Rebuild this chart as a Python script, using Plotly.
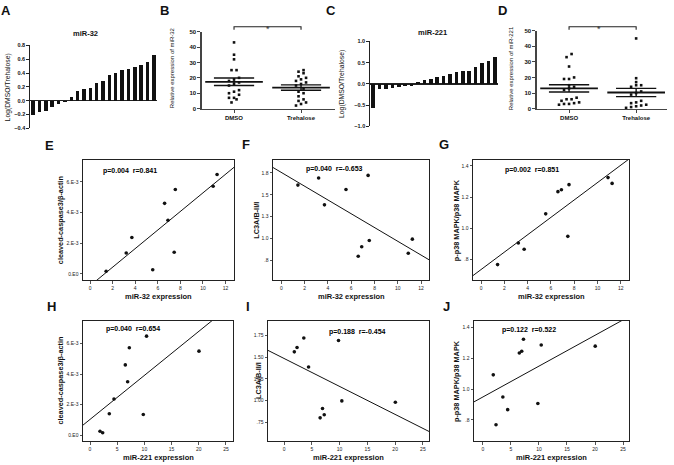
import numpy as np
import plotly.graph_objects as go

W, H = 674, 465
FONT = "Liberation Sans, Arial, sans-serif"

# ---------------- data ----------------
a_vals = [-0.20, -0.16, -0.15, -0.09, -0.05, -0.02, 0.06, 0.14, 0.17, 0.19,
          0.26, 0.28, 0.37, 0.40, 0.44, 0.46, 0.49, 0.52, 0.56, 0.66]
c_vals = [-0.56, -0.13, -0.13, -0.09, -0.07, -0.05, -0.04, 0.05, 0.10, 0.12,
          0.16, 0.18, 0.23, 0.28, 0.30, 0.31, 0.40, 0.50, 0.55, 0.64]

groups = ["DMSO", "Trehalose"]
b_dmso = [43, 35, 32, 25, 25, 20, 19, 18, 17, 16, 15, 12, 11, 10, 9, 7, 7, 6, 4]
b_tre = [25, 24, 23, 21, 20, 19, 18, 17, 16, 15, 13, 11, 10, 8, 6, 5, 4, 3, 2]
d_dmso = [35, 33, 27, 20, 19, 19, 15, 14, 13, 12, 7, 6, 6, 5, 4, 3.5, 3, 3, 2.5]
d_tre = [45, 19.5, 17, 15, 15, 14, 11, 10, 9, 5, 4, 3.5, 2.5, 2, 1.5, 1, 0.5]

mir32 = [1.42, 3.2, 3.7, 5.55, 6.6, 6.9, 7.45, 7.55, 10.9, 11.25]
mir221 = [2.33, 9.8, 4.41, 1.84, 6.49, 6.92, 3.55, 20.04, 7.23, 10.4]
casp = [0.17e-3, 1.36e-3, 2.37e-3, 0.27e-3, 4.6e-3, 3.5e-3, 1.41e-3, 5.5e-3, 5.72e-3, 6.48e-3]
lc3 = [1.61, 1.69, 1.385, 1.56, 0.80, 0.908, 1.72, 0.98, 0.835, 0.995]
p38 = [0.768, 0.906, 0.866, 1.093, 1.235, 1.247, 0.949, 1.28, 1.325, 1.288]

stats_text = ["p=0.004  r=0.841", "p=0.040  r=-0.653", "p=0.002  r=0.851",
              "p=0.040  r=0.654", "p=0.188  r=-0.454", "p=0.122  r=0.522"]

casp_ticks = [0, 2e-3, 4e-3, 6e-3]
casp_ticktext = ["0.E0", "2.E-3", "4.E-3", "6.E-3"]
lc3a_ticks = [0.75, 1.0, 1.25, 1.5, 1.75]
lc3a_ticktext = [".8", "1.0", "1.3", "1.5", "1.8"]
lc3b_ticktext = [".75", "1.00", "1.25", "1.50", "1.75"]
p38_ticks = [0.8, 1.0, 1.2, 1.4]
p38_ticktext = [".8", "1.0", "1.2", "1.4"]

# ---------------- layout helpers ----------------
boxes = {
    1: (30, 157, 43, 127),
    2: (202, 335, 29, 107),
    3: (370, 498, 39, 125),
    4: (537, 667, 28, 107),
    5: (83, 234, 159, 281),
    6: (273, 429, 159, 281),
    7: (473, 629, 159, 281),
    8: (83, 233, 322, 444),
    9: (268, 429, 322, 444),
    10: (474, 629, 322, 444),
}
xranges = {
    1: [-0.5, 19.5], 2: [-0.478, 1.507], 3: [-0.5, 19.5], 4: [-0.478, 1.46],
    5: [-0.63, 12.75], 6: [-0.72, 12.68], 7: [-0.69, 12.7],
    8: [-1.29, 26.3], 9: [-2.9, 26.1], 10: [-1.6, 26.07],
}
yranges = {
    1: [-0.4, 0.8], 2: [0, 50], 3: [-1.0, 1.0], 4: [0, 50],
    5: [-0.42e-3, 7.43e-3], 6: [0.526, 1.896], 7: [0.667, 1.438],
    8: [-0.39e-3, 7.48e-3], 9: [0.53, 1.917], 10: [0.66, 1.445],
}


def dom(i):
    x0, x1, y0, y1 = boxes[i]
    return [x0 / W, x1 / W], [1 - y1 / H, 1 - y0 / H]


def data_to_paper_x(i, v):
    x0, x1, _, _ = boxes[i]
    r0, r1 = xranges[i]
    return (x0 + (v - r0) / (r1 - r0) * (x1 - x0)) / W


def px(xp):
    return xp / W


def py(yp):
    return 1 - yp / H


def ax_id(i, kind):
    return kind if i == 1 else f"{kind}{i}"


fig = go.Figure()
layout = {}
annotations = []
shapes = []


def ann(text, x, y, size, bold=False, angle=0, xanchor="center", yanchor="middle", color="#111"):
    annotations.append(dict(
        text=f"<b>{text}</b>" if bold else text, x=px(x), y=py(y), xref="paper", yref="paper",
        showarrow=False, textangle=angle, xanchor=xanchor, yanchor=yanchor,
        font=dict(size=size, family=FONT, color=color)))


AXC = "#222"

# ---------------- bar panels A, C ----------------
for i, vals, ticks in [(1, a_vals, [-0.4, -0.2, 0, 0.2, 0.4, 0.6, 0.8]),
                       (3, c_vals, [-1.0, -0.5, 0, 0.5, 1.0])]:
    fig.add_trace(go.Bar(x=list(range(len(vals))), y=vals, width=0.55,
                         marker=dict(color="#111", line=dict(width=0)),
                         xaxis=ax_id(i, "x"), yaxis=ax_id(i, "y"), showlegend=False))
    xd, yd = dom(i)
    layout["xaxis" + ("" if i == 1 else str(i))] = dict(
        domain=xd, range=xranges[i], visible=False, anchor=ax_id(i, "y"))
    layout["yaxis" + ("" if i == 1 else str(i))] = dict(
        domain=yd, range=yranges[i], anchor=ax_id(i, "x"), showgrid=False,
        zeroline=True, zerolinecolor=AXC, zerolinewidth=1.2,
        showline=True, linecolor=AXC, linewidth=1.2, ticks="outside", ticklen=2.5,
        tickcolor=AXC, tickvals=ticks, tickformat=".1f",
        tickfont=dict(size=5.5, family=FONT, color="#111", weight="bold"))


# ---------------- dot plots B, D ----------------
def jitter(vals, binw=2.0, step=0.075):
    vals = np.asarray(vals, dtype=float)
    order = np.argsort(vals)
    offs = np.zeros(len(vals))
    grp = []
    start = None
    groups_idx = []
    for k in order:
        if start is None or vals[k] - start > binw:
            if grp:
                groups_idx.append(grp)
            grp = [k]
            start = vals[k]
        else:
            grp.append(k)
    if grp:
        groups_idx.append(grp)
    for g in groups_idx:
        n = len(g)
        for j, k in enumerate(g):
            offs[k] = (j - (n - 1) / 2) * step
    return offs


for i, series in [(2, [b_dmso, b_tre]), (4, [d_dmso, d_tre])]:
    xa, ya = ax_id(i, "x"), ax_id(i, "y")
    for ci, vals in enumerate(series):
        offs = jitter(vals)
        fig.add_trace(go.Scatter(
            x=list(ci + offs), y=vals, mode="markers",
            marker=dict(symbol="square", size=2.6, color="#111"),
            xaxis=xa, yaxis=ya, showlegend=False, cliponaxis=False))
        m = float(np.mean(vals))
        sem = float(np.std(vals, ddof=1) / np.sqrt(len(vals)))
        fig.add_trace(go.Scatter(
            x=[ci - 0.43, ci + 0.43], y=[m, m], mode="lines",
            line=dict(color="#111", width=1.8), xaxis=xa, yaxis=ya, showlegend=False))
        fig.add_trace(go.Scatter(
            x=[ci - 0.3, ci + 0.3, None, ci - 0.3, ci + 0.3, None, ci, ci],
            y=[m + sem, m + sem, None, m - sem, m - sem, None, m - sem, m + sem],
            mode="lines", line=dict(color="#111", width=1.4),
            xaxis=xa, yaxis=ya, showlegend=False))
    xd, yd = dom(i)
    layout["xaxis" + str(i)] = dict(
        domain=xd, range=xranges[i], anchor=ya, showgrid=False, zeroline=False,
        showline=True, linecolor="#444", linewidth=1.6, ticks="outside", ticklen=3,
        tickcolor="#444", tickvals=[0, 1], ticktext=groups,
        tickfont=dict(size=6, family=FONT, color="#111", weight="bold"))
    layout["yaxis" + str(i)] = dict(
        domain=yd, range=yranges[i], anchor=xa, showgrid=False, zeroline=False,
        showline=True, linecolor="#444", linewidth=1.6, ticks="outside", ticklen=3,
        tickcolor="#444", tickvals=[0, 10, 20, 30, 40, 50],
        tickfont=dict(size=6, family=FONT, color="#111", weight="bold"))
    # significance bracket
    xl, xr = data_to_paper_x(i, 0), data_to_paper_x(i, 1)
    shapes.append(dict(type="path", xref="paper", yref="paper",
                       path=f"M {xl} {py(27)} L {xl} {py(24)} L {xr} {py(24)} L {xr} {py(27)}",
                       line=dict(color="#222", width=1.1)))
    annotations.append(dict(text="*", x=(xl + xr) / 2, y=py(19), xref="paper", yref="paper",
                            showarrow=False, font=dict(size=9, family=FONT, color="#333")))

# ---------------- correlation scatter panels E-J ----------------
scat = [
    (5, mir32, casp, casp_ticks, casp_ticktext, [0, 2, 4, 6, 8, 10, 12]),
    (6, mir32, lc3, lc3a_ticks, lc3a_ticktext, [0, 2, 4, 6, 8, 10, 12]),
    (7, mir32, p38, p38_ticks, p38_ticktext, [0, 2, 4, 6, 8, 10, 12]),
    (8, mir221, casp, casp_ticks, casp_ticktext, [0, 5, 10, 15, 20, 25]),
    (9, mir221, lc3, lc3a_ticks, lc3b_ticktext, [0, 5, 10, 15, 20, 25]),
    (10, mir221, p38, p38_ticks, p38_ticktext, [0, 5, 10, 15, 20, 25]),
]
for i, xs, ys, yt, ytt, xt in scat:
    xa, ya = ax_id(i, "x"), ax_id(i, "y")
    slope, icpt = np.polyfit(xs, ys, 1)
    xr0, xr1 = xranges[i]
    fig.add_trace(go.Scatter(x=[xr0, xr1], y=[icpt + slope * xr0, icpt + slope * xr1],
                             mode="lines", line=dict(color="#111", width=1),
                             xaxis=xa, yaxis=ya, showlegend=False))
    fig.add_trace(go.Scatter(x=xs, y=ys, mode="markers",
                             marker=dict(size=3.6, color="#111"),
                             xaxis=xa, yaxis=ya, showlegend=False))
    xd, yd = dom(i)
    common = dict(showgrid=False, zeroline=False, showline=True, mirror=True,
                  linecolor="#222", linewidth=1, ticks="outside", ticklen=2.5,
                  tickcolor="#555", tickfont=dict(size=5, family=FONT, color="#222"))
    layout["xaxis" + str(i)] = dict(domain=xd, range=xranges[i], anchor=ya,
                                    tickvals=xt, **common)
    layout["yaxis" + str(i)] = dict(domain=yd, range=yranges[i], anchor=xa,
                                    tickvals=yt, ticktext=ytt, **common)

# ---------------- texts ----------------
for letter, x, y in [("A", 5.5, 8), ("B", 164, 8), ("C", 331, 8), ("D", 502, 8),
                     ("E", 49, 144), ("F", 245.5, 143), ("G", 444, 143),
                     ("H", 51, 307.5), ("I", 248, 307.5), ("J", 446, 307.5)]:
    ann(letter, x, y, 13, bold=True)

ann("miR-32", 85, 30.5, 7.5, bold=True)
ann("miR-221", 432, 30, 7.5, bold=True)
ann("Log(DMSO/Trehalose)", 7.5, 86, 6.8, angle=-90)
ann("Log(DMSO/Trehalose)", 342, 82, 6.8, angle=-90)
ann("Relative expression of miR-32", 172, 66, 6, angle=-90)
ann("Relative expression of miR-221", 511, 66, 6, angle=-90)

ytitles = {5: ("cleaved-caspase3/β-actin", 60), 6: ("LC3A/B-II/I", 256.5),
           7: ("p-p38 MAPK/p38 MAPK", 456), 8: ("cleaved-caspase3/β-actin", 60.5),
           9: ("LC3A/B-II/I", 258), 10: ("p-p38 MAPK/p38 MAPK", 456)}
stat_pos = {5: (130, 170), 6: (334, 168), 7: (532, 169),
            8: (133, 330), 9: (357, 333), 10: (529, 331)}
for k, (i, xs, *_rest) in enumerate(scat):
    x0, x1, y0, y1 = boxes[i]
    t, tx = ytitles[i]
    ann(t, tx, (y0 + y1) / 2, 7.3, bold=True, angle=-90)
    xt_label = "miR-32 expression" if i <= 7 else "miR-221 expression"
    ann(xt_label, (x0 + x1) / 2, y1 + 16, 7.5, bold=True)
    sx, sy = stat_pos[i]
    ann(stats_text[k].replace("  ", "\u00a0\u00a0"), sx, sy, 7, bold=True, color="#000000")

fig.update_layout(
    width=W, height=H, margin=dict(l=0, r=0, t=0, b=0),
    paper_bgcolor="white", plot_bgcolor="white", showlegend=False,
    annotations=annotations, shapes=shapes, bargap=0,
    font=dict(family=FONT, color="#111"),
    **layout)

fig.write_html("out.html",
               config={"displayModeBar": False, "staticPlot": True},
               post_script="document.body.style.margin='0';document.body.style.padding='0';"
                           "document.body.style.overflow='hidden';")
